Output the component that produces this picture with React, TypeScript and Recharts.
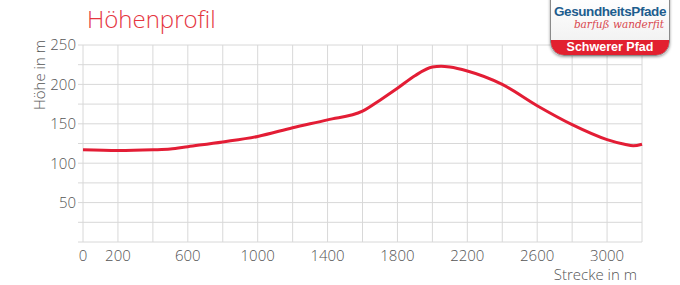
import { CartesianGrid, Line, LineChart, XAxis, YAxis } from "recharts";

const distance = [0, 200, 400, 500, 600, 800, 1000, 1200, 1400, 1600, 1700, 1800, 1900, 2000, 2050, 2100, 2200, 2400, 2600, 2800, 3000, 3100, 3150, 3200];
const elevation = [117, 116, 117, 118, 121, 127, 134, 145, 155, 166, 180, 195, 211, 222, 223, 222, 217, 200, 173, 149, 130, 124, 122, 124];

const xTicks = [0, 200, 400, 600, 800, 1000, 1200, 1400, 1600, 1800, 2000, 2200, 2400, 2600, 2800, 3000, 3200];
const xLabels = [0, 200, 600, 1000, 1400, 1800, 2200, 2600, 3000];
const yTicks = [0, 25, 50, 75, 100, 125, 150, 175, 200, 225, 250];
const yLabels = [50, 100, 150, 200, 250];

const data = distance.map((d, i) => ({ d, h: elevation[i] }));

const font = "'Open Sans', sans-serif";
const red = "#e31d35";
const textGray = "#555555";

export default function App() {
  return (
    <div style={{ position: "fixed", left: 0, top: 0, width: 680, height: 285, background: "#fff" }}>
      <div
        style={{
          position: "absolute",
          left: 87,
          top: 2,
          fontFamily: font,
          fontWeight: 300,
          fontSize: 24,
          color: "#e5363f",
        }}
      >
        Höhenprofil
      </div>

      <LineChart width={680} height={285} data={data} margin={{ top: 45, right: 38, left: 0, bottom: 0 }}>
        <CartesianGrid stroke="#d8d8d8" horizontalValues={yTicks} verticalValues={xTicks} />
        <XAxis
          dataKey="d"
          type="number"
          domain={[0, 3200]}
          ticks={xTicks}
          interval={0}
          height={43}
          axisLine={false}
          tickLine={false}
          tickFormatter={(v: number) => (xLabels.includes(v) ? String(v) : "")}
          tick={{ fill: textGray, fontSize: 15, fontFamily: font, fontWeight: 300 }}
          tickMargin={2}
        />
        <YAxis
          type="number"
          domain={[0, 250]}
          ticks={yTicks}
          interval={0}
          width={83}
          axisLine={false}
          tickLine={{ stroke: "#d8d8d8" }}
          tickSize={5}
          tickFormatter={(v: number) => (yLabels.includes(v) ? String(v) : "")}
          tick={{ fill: textGray, fontSize: 15, fontFamily: font, fontWeight: 300 }}
        />
        <Line
          type="monotone"
          dataKey="h"
          stroke={red}
          strokeWidth={3}
          dot={false}
          isAnimationActive={false}
        />
      </LineChart>

      <div
        style={{
          position: "absolute",
          left: 30,
          top: 75,
          transform: "translate(-50%, -50%) rotate(-90deg)",
          transformOrigin: "center",
          fontFamily: font,
          fontWeight: 300,
          fontSize: 15,
          color: textGray,
          whiteSpace: "nowrap",
          marginLeft: 9,
        }}
      >
        Höhe in m
      </div>
      <div
        style={{
          position: "absolute",
          right: 43,
          top: 264,
          fontFamily: font,
          fontWeight: 300,
          fontSize: 15,
          color: textGray,
        }}
      >
        Strecke in m
      </div>

      <div
        style={{
          position: "absolute",
          left: 550,
          top: -4,
          width: 118,
          height: 58,
          borderRadius: "0 0 14px 14px",
          border: "1px solid #8a8a8a",
          boxShadow: "0 1px 3px rgba(0,0,0,0.4)",
          background: "linear-gradient(#ffffff, #eeeeee)",
          overflow: "hidden",
          textAlign: "center",
        }}
      >
        <div
          style={{
            marginTop: 8,
            fontFamily: "'Liberation Sans', Arial, sans-serif",
            fontWeight: 700,
            fontSize: 13.5,
            letterSpacing: -0.4,
            color: "#1d5d8e",
            lineHeight: "13px",
          }}
        >
          GesundheitsPfade
        </div>
        <div
          style={{
            fontFamily: "'DejaVu Serif', serif",
            fontStyle: "italic",
            fontSize: 10.5,
            color: "#d9484f",
            lineHeight: "13px",
            paddingLeft: 18,
          }}
        >
          barfuß wanderfit
        </div>
        <div
          style={{
            position: "absolute",
            left: 0,
            right: 0,
            bottom: 0,
            height: 15,
            background: "#e2202f",
            color: "#fff",
            fontFamily: "'Liberation Sans', Arial, sans-serif",
            fontWeight: 700,
            fontSize: 12.5,
            lineHeight: "15px",
          }}
        >
          Schwerer Pfad
        </div>
      </div>
    </div>
  );
}
